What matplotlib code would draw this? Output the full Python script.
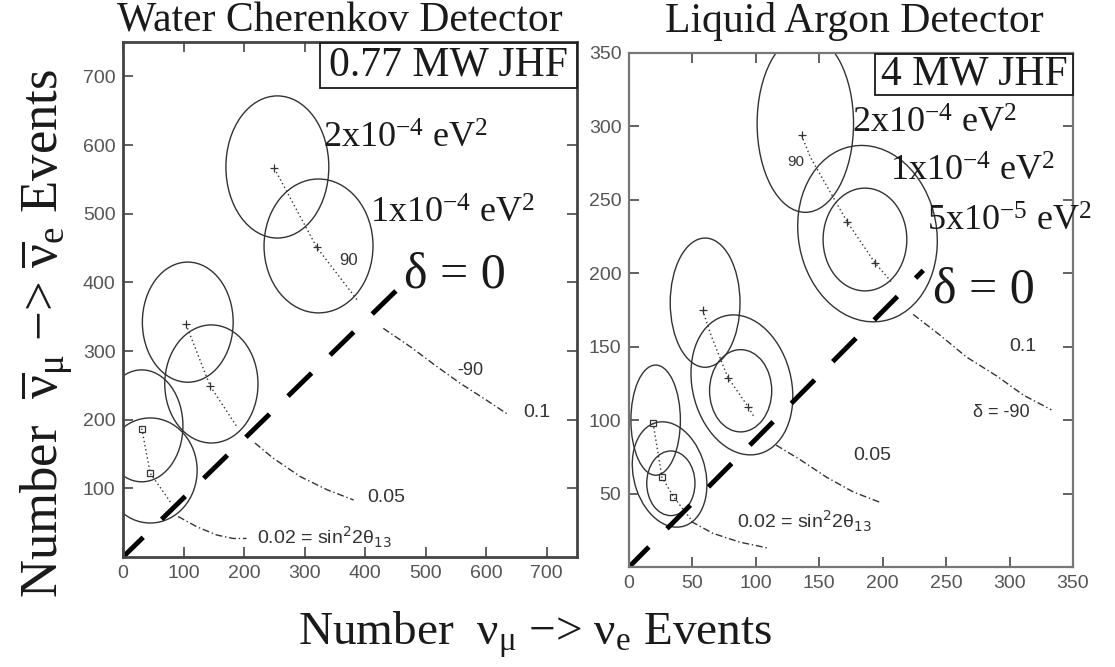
#!/usr/bin/env python3
"""nu_e appearance event counts: water Cherenkov vs liquid argon (JHF beam)."""
import matplotlib

matplotlib.use("Agg")
import matplotlib.pyplot as plt
from matplotlib.patches import Ellipse, Rectangle

plt.rcParams["font.family"] = ["Liberation Serif", "DejaVu Serif"]
plt.rcParams["mathtext.fontset"] = "custom"
plt.rcParams["mathtext.rm"] = "Liberation Serif"
plt.rcParams["mathtext.it"] = "Liberation Serif:italic"
plt.rcParams["mathtext.bf"] = "Liberation Serif:bold"
plt.rcParams["mathtext.default"] = "rm"

INK, LINE, TICK = "#1a1a1a", "#333333", "#555555"
SANS = ["Liberation Sans", "DejaVu Sans"]

# ---- water Cherenkov, 0.77 MW ----
WC_LIM = 750
WC_XTICKS = [0, 100, 200, 300, 400, 500, 600, 700]
WC_YTICKS = [100, 200, 300, 400, 500, 600, 700]
WC_ELL_CX = [255, 323, 107, 146, 31, 45]
WC_ELL_CY = [568, 453, 342, 252, 191, 126]
WC_ELL_W = [170, 180, 150, 154, 136, 155]
WC_ELL_H = [207, 195, 175, 172, 163, 153]
WC_ELL_ANG = [0, 0, 0, 0, 0, 0]
WC_PT_X = [250, 320, 104, 144, 31, 45]
WC_PT_Y = [566, 451, 339, 249, 187, 122]
WC_PT_M = ["+", "+", "+", "+", "s", "s"]
WC_DOT_X = [[250, 320, 389], [104, 144, 188], [31, 45, 80]]
WC_DOT_Y = [[566, 451, 372], [339, 249, 190], [187, 122, 78]]
WC_CURVE_X = [[430, 475, 519, 557, 596, 637], [218, 248, 293, 337, 381], [91, 122, 155, 182, 204]]
WC_CURVE_Y = [[333, 306, 277, 253, 231, 207], [166, 144, 117, 98, 83], [59, 44, 32, 27, 27]]
WC_DIAG_X = [0, 463]
WC_DIAG_Y = [0, 398]

# ---- liquid argon, 4 MW ----
LA_LIM = 350
LA_XTICKS = [0, 50, 100, 150, 200, 250, 300, 350]
LA_YTICKS = [50, 100, 150, 200, 250, 300, 350]
LA_ELL_CX = [139, 188, 186, 60, 89, 88, 21, 32, 33]
LA_ELL_CY = [302, 227, 223, 180, 124, 120, 100, 63, 57]
LA_ELL_W = [76, 108, 66, 55, 77, 49, 39, 56, 38]
LA_ELL_H = [121, 122, 70, 88, 98, 56, 75, 74, 44]
LA_ELL_ANG = [0, 22, 0, 0, 22, 0, 0, 22, 0]
LA_PT_X = [136, 172, 194, 58, 78, 94, 19, 26, 35]
LA_PT_Y = [294, 235, 207, 175, 129, 109, 98, 61, 48]
LA_PT_M = ["+", "+", "+", "+", "+", "+", "s", "s", "s"]
LA_DOT_X = [[136, 143, 172, 194, 208], [58, 65, 78, 94, 98], [19, 26, 35, 50]]
LA_DOT_Y = [[294, 279, 235, 207, 193], [175, 157, 129, 109, 103], [98, 61, 48, 31]]
LA_CURVE_X = [[224, 245, 266, 290, 311, 333], [116, 135, 156, 177, 198], [49, 66, 87, 109]]
LA_CURVE_Y = [[172, 158, 143, 130, 117, 107], [83, 73, 61, 51, 44], [31, 23, 17, 13]]
LA_DIAG_X = [0, 232]
LA_DIAG_Y = [0, 202]


def panel(ax, lim, xt, yt, ell, pts, dots, curves, diag, spine_c, spine_w):
    ax.set_xlim(0, lim)
    ax.set_ylim(0, lim)
    ax.set_xticks(xt)
    ax.set_yticks(yt)
    ax.tick_params(direction="in", length=7, width=1.3, top=True, right=True,
                   colors=TICK, labelsize=14, pad=5.5, labelfontfamily="Liberation Sans")
    for s in ax.spines.values():
        s.set_color(spine_c)
        s.set_linewidth(spine_w)
    for cx, cy, w, h, a in zip(*ell):
        ax.add_patch(Ellipse((cx, cy), w, h, angle=a, fill=False, ec=LINE, lw=1.0))
    for x, y, m in zip(*pts):
        ax.plot(x, y, marker=m, ms=5 if m == "s" else 6, mfc="none", mec=LINE, mew=0.9, ls="none")
    for xs, ys in zip(*dots):
        ax.plot(xs, ys, color=LINE, lw=1.0, ls=(0, (1, 2)))
    for xs, ys in zip(*curves):
        ax.plot(xs, ys, color=LINE, lw=1.0, ls=(0, (5, 2, 1, 2)))
    ax.plot(diag[0], diag[1], color="black", lw=3.5, ls=(1.0, (6.8, 5.3)), solid_capstyle="butt")


def jhf_box(ax, x0, y0, label):
    ax.add_patch(Rectangle((x0, y0), 1 - x0, 0.999 - y0, transform=ax.transAxes,
                           fc="white", ec=INK, lw=1.3, clip_on=False, zorder=5))
    ax.text((x0 + 1) / 2, (y0 + 0.999) / 2, label, transform=ax.transAxes, ha="center",
            va="center", fontsize=30, color=INK, zorder=6)


fig = plt.figure(figsize=(11.15, 6.67), dpi=100)
ax_l = fig.add_axes([123 / 1115, 110 / 667, 454 / 1115, 515 / 667])
ax_r = fig.add_axes([629 / 1115, 100 / 667, 444 / 1115, 514 / 667])

panel(ax_l, WC_LIM, WC_XTICKS, WC_YTICKS,
      (WC_ELL_CX, WC_ELL_CY, WC_ELL_W, WC_ELL_H, WC_ELL_ANG),
      (WC_PT_X, WC_PT_Y, WC_PT_M), (WC_DOT_X, WC_DOT_Y),
      (WC_CURVE_X, WC_CURVE_Y), (WC_DIAG_X, WC_DIAG_Y), "#444444", 2.0)
panel(ax_r, LA_LIM, LA_XTICKS, LA_YTICKS,
      (LA_ELL_CX, LA_ELL_CY, LA_ELL_W, LA_ELL_H, LA_ELL_ANG),
      (LA_PT_X, LA_PT_Y, LA_PT_M), (LA_DOT_X, LA_DOT_Y),
      (LA_CURVE_X, LA_CURVE_Y), (LA_DIAG_X, LA_DIAG_Y), "#777777", 1.6)

jhf_box(ax_l, 0.434, 0.911, "0.77 MW JHF")
jhf_box(ax_r, 0.554, 0.918, "4 MW JHF")

# mass-splitting and delta labels
dm = dict(fontsize=26, color=INK, va="baseline")
ax_l.text(330, 596, "2x10$^{-4}$ eV$^{2}$", **dm)
ax_l.text(408, 486, "1x10$^{-4}$ eV$^{2}$", **dm)
ax_l.text(465, 393, "δ = 0", fontsize=36, color=INK, va="baseline")
ax_r.text(176, 296, "2x10$^{-4}$ eV$^{2}$", **dm)
ax_r.text(206, 263, "1x10$^{-4}$ eV$^{2}$", **dm)
ax_r.text(235, 229, "5x10$^{-5}$ eV$^{2}$", **dm)
ax_r.text(240, 180, "δ = 0", fontsize=36, color=INK, va="baseline")

sm = dict(family=SANS, color="#333333", va="center", math_fontfamily="dejavusans")
ax_l.text(358, 432, "90", fontsize=12, **sm)
ax_l.text(553, 272, "-90", fontsize=13, **sm)
ax_l.text(661, 211, "0.1", fontsize=14, **sm)
ax_l.text(403, 86, "0.05", fontsize=14, **sm)
ax_l.text(221, 29, "0.02 = sin$^2$2θ$_{13}$", fontsize=14, **sm)
ax_r.text(125, 276, "90", fontsize=11, **sm)
ax_r.text(300, 150, "0.1", fontsize=14, **sm)
ax_r.text(271, 105, "δ = -90", fontsize=13, **sm)
ax_r.text(177, 76, "0.05", fontsize=14, **sm)
ax_r.text(85, 31, "0.02 = sin$^2$2θ$_{13}$", fontsize=14, **sm)

fig.text(340 / 1115, 1 - 32 / 667, "Water Cherenkov Detector", ha="center", va="baseline",
         fontsize=30, color=INK)
fig.text(854 / 1115, 1 - 32 / 667, "Liquid Argon Detector", ha="center", va="baseline",
         fontsize=30, color=INK)
fig.text(535 / 1115, 22 / 667, r"Number  ν$_{\mathrm{μ}}$ −> ν$_{\mathrm{e}}$ Events",
         ha="center", va="baseline", fontsize=34, color=INK)
fig.text(47 / 1115, 1 - 333 / 667,
         r"Number  $\overline{\mathrm{ν}}_{\mathrm{μ}}$ −> $\overline{\mathrm{ν}}_{\mathrm{e}}$ Events",
         rotation=90, ha="center", va="center", fontsize=38, color=INK)

fig.savefig("out.png", dpi=100, facecolor="white")
